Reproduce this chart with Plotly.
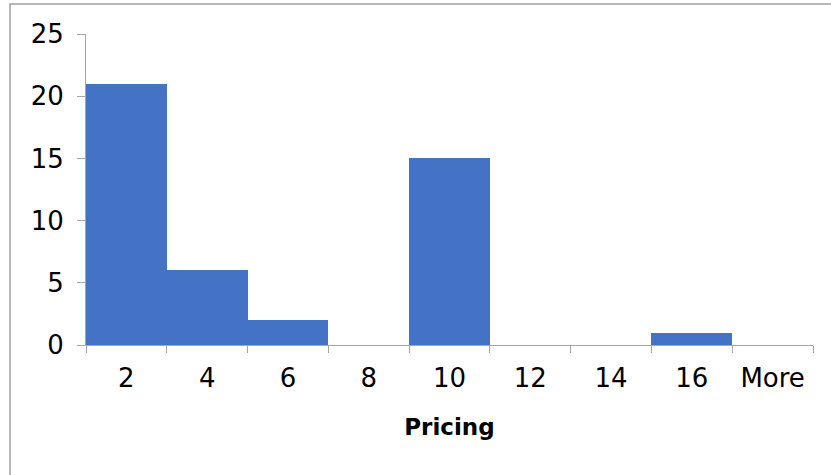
import plotly.graph_objects as go

# Histogram bins and their frequencies
bins = ["2", "4", "6", "8", "10", "12", "14", "16", "More"]
frequency = [21, 6, 2, 0, 15, 0, 0, 1, 0]
y_ticks = [0, 5, 10, 15, 20, 25]

axis_grey = "#a6a6a6"
tick_font = dict(family="DejaVu Sans", size=26, color="#000000")

fig = go.Figure(
    go.Bar(
        x=bins,
        y=frequency,
        marker=dict(color="#4472C4", line=dict(width=0)),
        hoverinfo="x+y",
    )
)

fig.update_layout(
    width=831,
    height=475,
    margin=dict(l=86, r=18, t=34, b=130),
    paper_bgcolor="white",
    plot_bgcolor="white",
    bargap=0,
    showlegend=False,
    xaxis=dict(
        type="category",
        tickson="boundaries",
        ticks="outside",
        ticklen=7,
        tickcolor=axis_grey,
        showline=True,
        linecolor=axis_grey,
        linewidth=1,
        showgrid=False,
        tickfont=tick_font,
        ticklabelstandoff=10,
        title=dict(
            text="Pricing",
            font=dict(family="DejaVu Sans", size=23, color="#000000", weight="bold"),
            standoff=26,
        ),
    ),
    yaxis=dict(
        range=[0, 25],
        tickvals=y_ticks,
        ticks="outside",
        ticklen=8,
        tickcolor=axis_grey,
        showline=True,
        linecolor=axis_grey,
        linewidth=1,
        showgrid=False,
        zeroline=False,
        tickfont=tick_font,
        ticklabelstandoff=8,
    ),
)

# Frame around the chart area (left and top edges)
fig.add_shape(
    type="path",
    xref="paper",
    yref="paper",
    path="M -0.1045,-0.45 L -0.1045,1.0965 L 1.1,1.0965",
    line=dict(color="#a0a0a0", width=1.5),
)

fig.write_html("out.html")
